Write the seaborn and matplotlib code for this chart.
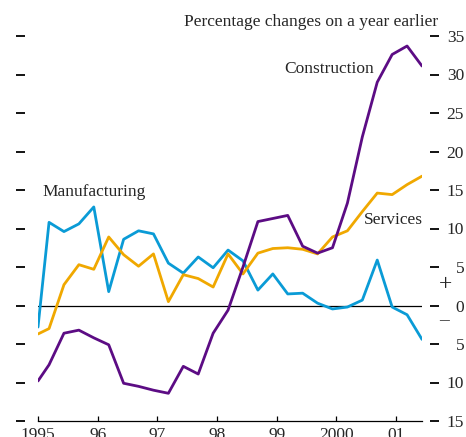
import numpy as np
import pandas as pd
import matplotlib
matplotlib.use("Agg")
import matplotlib.pyplot as plt
import seaborn as sns

# Quarterly data, percentage changes on a year earlier
first_x = 1995.0
quarter_x = 1995.185 + 0.25 * np.arange(26)
dates = np.concatenate([[first_x], quarter_x])

manufacturing = [-2.8, 10.8, 9.6, 10.6, 12.8, 1.8, 8.6, 9.7, 9.3, 5.5, 4.2, 6.3, 4.9, 7.2,
                 5.8, 2.0, 4.1, 1.5, 1.6, 0.3, -0.45, -0.2, 0.7, 5.9, -0.2, -1.2, -4.4]
services = [-3.7, -3.0, 2.7, 5.3, 4.7, 8.9, 6.6, 5.1, 6.7, 0.5, 4.0, 3.5, 2.4, 6.7,
            4.1, 6.8, 7.4, 7.5, 7.3, 6.7, 8.9, 9.7, 12.2, 14.6, 14.4, 15.7, 16.8]
construction = [-9.8, -7.7, -3.6, -3.2, -4.2, -5.1, -10.1, -10.5, -11.0, -11.4, -7.9, -8.9, -3.6, -0.6,
                5.0, 10.9, 11.3, 11.7, 7.7, 6.8, 7.5, 13.3, 21.9, 29.0, 32.6, 33.7, 31.1]

year_ticks = [1995, 1996, 1997, 1998, 1999, 2000, 2001]
year_labels = ["1995", "96", "97", "98", "99", "2000", "01"]
y_ticks = [-15, -10, -5, 0, 5, 10, 15, 20, 25, 30, 35]
y_labels = ["15", "10", "5", "0", "5", "10", "15", "20", "25", "30", "35"]

colors = {"Manufacturing": "#0a9bd6", "Services": "#f0a800", "Construction": "#5c0c84"}

df = pd.DataFrame({
    "date": np.tile(dates, 3),
    "value": manufacturing + services + construction,
    "sector": ["Manufacturing"] * 27 + ["Services"] * 27 + ["Construction"] * 27,
})

sns.set_theme(style="white")
plt.rcParams["font.family"] = ["Liberation Serif", "DejaVu Serif"]

fig = plt.figure(figsize=(4.66, 4.37), dpi=100)
ax = fig.add_axes([38 / 466, 16 / 437, 384 / 466, 385 / 437])

ax.axhline(0, color="black", lw=0.9, zorder=1)
sns.lineplot(data=df, x="date", y="value", hue="sector", palette=colors,
             linewidth=2.0, legend=False, ax=ax, zorder=3)

ax.set_xlim(1995, 2001.435)
ax.set_ylim(-15, 35)
ax.set_xlabel("")
ax.set_ylabel("")

ax.spines["top"].set_visible(False)
ax.spines["left"].set_position(("outward", 9.4))
ax.spines["right"].set_position(("outward", 5.8))
ax.spines["left"].set_color("none")
ax.spines["right"].set_color("none")
ax.spines["bottom"].set_color("black")
ax.spines["bottom"].set_linewidth(0.9)

ax.set_xticks(year_ticks)
ax.set_xticklabels(year_labels, fontsize=12.5)
ax.tick_params(axis="x", direction="in", length=3.6, width=0.9, color="black", pad=4.0,
               bottom=True)

ax.set_yticks(y_ticks)
ax.set_yticklabels(y_labels, fontsize=12.5)
ax.tick_params(axis="y", direction="out", length=6.5, width=1.3, color="black",
               left=True, right=True, labelleft=False, labelright=True, pad=18)
for lab in ax.get_yticklabels():
    lab.set_horizontalalignment("right")

ax.text(2001.83, 2.7, "+", fontsize=17, ha="center", va="center", clip_on=False)
ax.text(2001.81, -2.0, "\u2013", fontsize=14, ha="center", va="center", clip_on=False)

fig.text(438 / 466, 1 - 22 / 437, "Percentage changes on a year earlier", fontsize=12.5,
         ha="right", va="center")
ax.text(1995 + (374 - 38) / 59.7, (305.5 - 69) / 7.69, "Construction",
        fontsize=12.5, ha="right", va="center")
ax.text(1995 + (42 - 38) / 59.7, (305.5 - 192) / 7.69, "Manufacturing", fontsize=12.5,
        ha="left", va="center")
ax.text(1995 + (364 - 38) / 59.7, (305.5 - 220) / 7.69, "Services", fontsize=12.5,
        ha="left", va="center")

fig.savefig("out.png", dpi=100)
